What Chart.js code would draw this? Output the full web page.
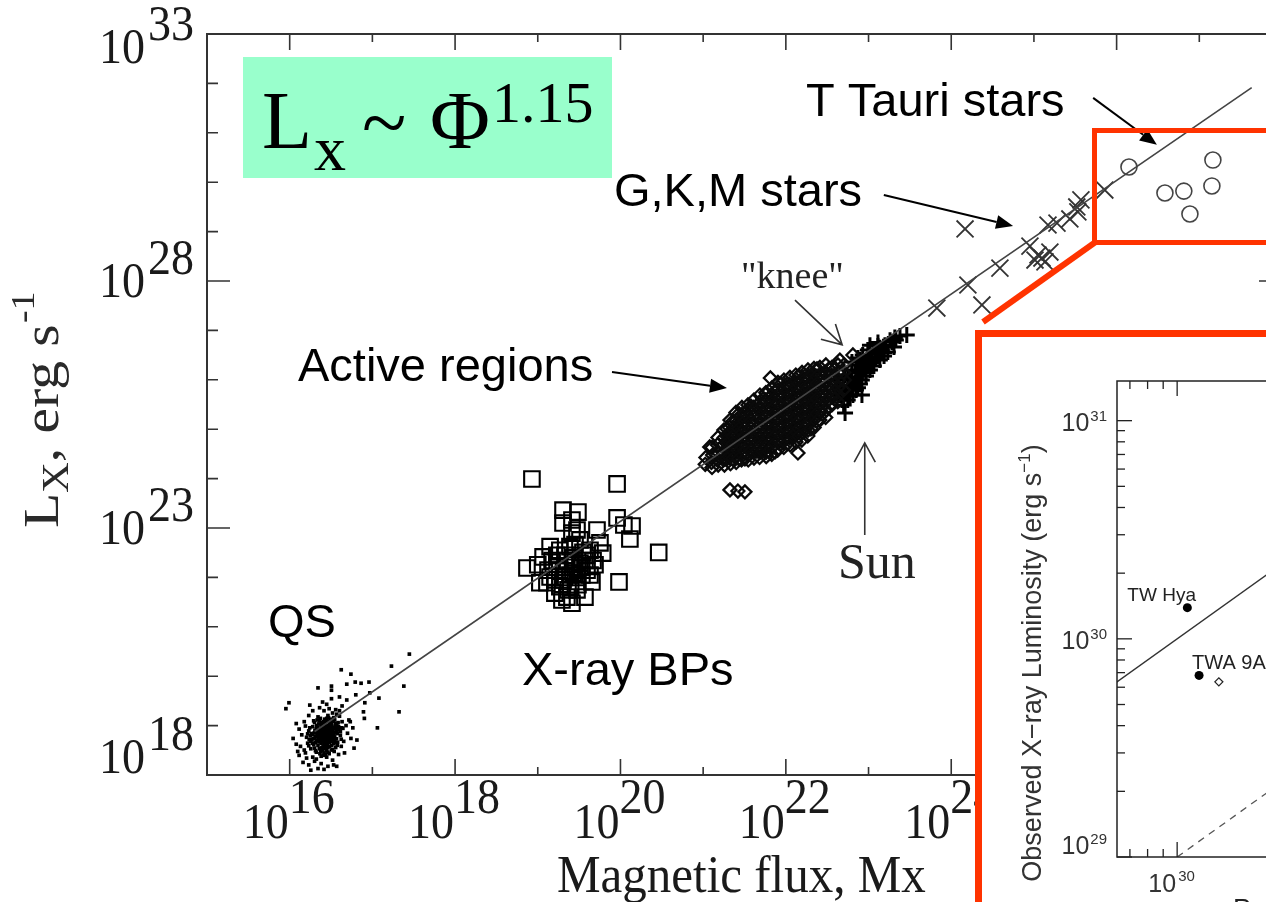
<!DOCTYPE html>
<html><head><meta charset="utf-8">
<script src="https://cdn.jsdelivr.net/npm/chart.js@4"></script>
<style>
html,body{margin:0;padding:0;background:#fff;overflow:hidden;width:1266px;height:902px;}
#wrap{position:relative;width:1266px;height:902px;overflow:hidden;background:#fff;}
#main{position:absolute;left:0;top:0;}
#inset{position:absolute;left:975px;top:330px;width:700px;height:620px;border:7px solid #ff3300;background:#fff;box-sizing:border-box;}
#insetCanvas{position:absolute;left:0;top:0;}
</style></head>
<body><div id="wrap">
<canvas id="main" width="1300" height="902"></canvas>
<div id="inset"><canvas id="insetCanvas" width="640" height="600"></canvas></div>
</div>
<script>
// ---------------- DATA (main panel: magnetic flux [Mx] vs X-ray luminosity [erg/s]) ----------------
const xTickLabelValues = [1e16, 1e18, 1e20, 1e22, 1e24, 1e26];
const yTickLabelValues = [1e18, 1e23, 1e28, 1e33];

const fitFlux = [2.0e16, 4.3e27];
const fitLx   = [7.6e18, 8.2e31];

const qsPoints = [
[2.7e16,6.5e18],[2.5e16,5.8e18],[2.9e16,7.2e18],[2.3e16,6.1e18],[3.1e16,5.5e18],[2.6e16,8.0e18],[2.8e16,4.9e18],[2.2e16,7.5e18],[3.3e16,6.8e18],[2.4e16,4.4e18],
[3.0e16,8.8e18],[2.0e16,5.6e18],[3.5e16,5.9e18],[2.6e16,3.9e18],[2.1e16,8.6e18],[3.2e16,9.8e18],[2.9e16,3.6e18],[1.9e16,6.6e18],[3.7e16,7.7e18],[2.4e16,1.0e19],
[2.7e16,1.15e19],[3.4e16,4.3e18],[2.2e16,4.0e18],[1.8e16,4.8e18],[3.9e16,9.5e18],[2.5e16,3.2e18],[3.1e16,1.25e19],[2.0e16,3.5e18],[3.6e16,1.1e19],[2.8e16,1.4e19],
[2.3e16,1.25e19],[3.3e16,3.3e18],[1.9e16,9.5e18],[4.1e16,6.3e18],[2.6e16,2.8e18],[2.1e16,2.9e18],[3.0e16,2.7e18],[1.7e16,3.9e18],[3.8e16,4.6e18],[2.9e16,1.6e19],
[3.4e16,1.45e19],[2.2e16,1.5e19],[4.3e16,1.2e19],[1.7e16,7.8e18],[2.4e16,2.4e18],[2.8e16,2.3e18],[3.6e16,3.6e18],[1.6e16,5.8e18],[4.0e16,1.55e19],[2.0e16,1.15e19],
[2.55e16,7.1e18],[2.75e16,5.2e18],[2.35e16,6.9e18],[2.95e16,6.0e18],[2.65e16,9.0e18],[3.15e16,7.9e18],[2.45e16,5.1e18],[2.85e16,8.3e18],[3.25e16,5.0e18],[2.15e16,6.3e18],
[3.45e16,8.6e18],[2.05e16,4.5e18],[3.55e16,1.0e19],[2.7e16,4.2e18],[2.5e16,9.3e18],[3.0e16,4.6e18],[2.3e16,8.2e18],[3.2e16,6.4e18],[2.6e16,1.05e19],[2.8e16,3.1e18],
[1.85e16,5.2e18],[3.75e16,6.9e18],[2.45e16,3.6e18],[3.05e16,1.05e19],[2.25e16,1.08e19],[3.35e16,1.2e19],[1.95e16,4.1e18],[3.95e16,8.2e18],[2.7e16,2.6e18],[2.2e16,5.0e18],
[2.62e16,6.0e18],[2.88e16,6.7e18],[2.42e16,7.6e18],[3.12e16,7.0e18],[2.52e16,4.7e18],[2.78e16,9.6e18],[2.32e16,5.4e18],[3.38e16,7.4e18],[2.18e16,9.2e18],[2.98e16,5.1e18],
[2.68e16,3.4e18],[3.22e16,4.0e18],[2.12e16,4.9e18],[2.58e16,1.2e19],[3.48e16,5.3e18],[1.98e16,7.1e18],[2.92e16,1.2e19],[2.38e16,3.0e18],[3.62e16,8.9e18],[1.78e16,6.2e18],
[2.33e16,5.7e18],[2.57e16,6.4e18],[2.83e16,5.6e18],[3.07e16,6.2e18],[2.47e16,8.4e18],[2.73e16,7.8e18],[2.97e16,8.1e18],[3.27e16,8.4e18],[2.27e16,4.7e18],[2.63e16,4.5e18],
[2.87e16,4.3e18],[3.17e16,4.8e18],[2.07e16,6.0e18],[2.17e16,7.0e18],[3.42e16,6.3e18],[3.57e16,7.2e18],[2.53e16,3.7e18],[2.77e16,3.9e18],[3.03e16,3.8e18],[2.28e16,3.4e18],
[2.43e16,9.8e18],[2.67e16,1.1e19],[2.93e16,1.0e19],[3.18e16,1.12e19],[2.13e16,1.0e19],[3.33e16,9.3e18],[1.93e16,5.4e18],[1.83e16,6.9e18],[3.68e16,5.4e18],[3.82e16,8.6e18],
[2.48e16,6.6e18],[2.72e16,6.9e18],[2.92e16,6.4e18],[2.38e16,5.0e18],[2.61e16,5.3e18],[3.08e16,5.8e18],[2.22e16,8.0e18],[2.82e16,7.5e18],[3.28e16,5.7e18],[2.52e16,8.8e18],
[2.02e16,8.0e18],[1.88e16,4.4e18],[3.52e16,4.6e18],[3.72e16,9.9e18],[2.32e16,2.7e18],[2.9e16,2.9e18],[3.2e16,3.2e18],[2.55e16,2.5e18],[1.72e16,5.2e18],[4.1e16,7.5e18],
[2.42e16,1.15e19],[2.78e16,1.25e19],[3.1e16,1.35e19],[2.15e16,1.3e19],[3.5e16,1.3e19],[2.65e16,1.35e19],[1.95e16,1.25e19],[2.35e16,1.4e19],[3.85e16,1.15e19],[2.95e16,1.45e19],
[1.8e16,3.4e18],[1.65e16,4.4e18],[2.05e16,3.1e18],[3.45e16,3.0e18],[3.75e16,4.0e18],[4.2e16,5.3e18],[1.65e16,6.8e18],[1.75e16,9.0e18],[4.25e16,9.0e18],[2.58e16,7.7e18],
[2.68e16,5.5e18],[2.78e16,6.1e18],[2.4e16,6.2e18],[3.0e16,7.6e18],[2.2e16,5.6e18],[3.3e16,6.0e18],[2.5e16,5.3e18],[2.9e16,9.0e18],[2.6e16,7.0e18],[3.1e16,8.5e18],
[1.3e16,2.5e18],[1.5e16,3.2e18],[1.2e16,4.2e18],[1.45e16,1.8e18],[1.6e16,2.2e18],[1.35e16,3.8e18],[1.7e16,1.6e18],[1.55e16,2.8e18],[1.25e16,3.0e18],[1.1e16,5.5e18],
[2.0e16,1.9e18],[2.4e16,1.7e18],[2.9e16,1.5e18],[3.3e16,2.0e18],[2.6e16,1.3e18],[3.4e16,1.6e18],[1.9e16,2.3e18],[2.2e16,1.35e18],[3.9e16,2.6e18],[2.1e16,2.1e18],
[4.5e16,4.8e18],[5.0e16,7.0e18],[4.8e16,1.0e19],[4.6e16,2.8e18],[5.5e16,5.5e18],[4.4e16,8.8e18],[5.2e16,1.3e19],[4.2e16,3.8e18],[6.0e16,3.5e18],[5.8e16,9.0e18],
[1.5e16,1.2e19],[1.3e16,8.5e18],[1.7e16,1.6e19],[1.4e16,6.5e18],[1.9e16,2.0e19],[1.55e16,9.8e18],[1.2e16,1.1e19],[9.0e15,2.2e19],[2.3e16,2.3e19],[1.75e16,2.6e19],
[2.6e16,2.0e19],[3.0e16,2.2e19],[3.3e16,1.8e19],[2.8e16,2.7e19],[3.6e16,2.1e19],[4.0e16,2.0e19],[2.5e16,3.0e19],[3.2e16,3.5e19],[4.3e16,2.5e19],[3.7e16,1.7e19],
[2.8e17,2.8e20],[1.7e17,1.6e20],[4.2e16,1.35e20],[5.5e16,1.1e20],[3.2e16,6.3e19],[2.2e16,5.8e19],[9.8e15,2.9e19],[2.4e17,6.3e19],[2.1e17,1.9e19],[1.15e17,9.0e18],
[8.0e16,1.4e19],[6.5e16,5.1e18],[9.1e16,7.6e19],[7.3e16,7.2e19],[4.9e16,6.9e19],[9.3e16,4.6e19],[6.3e16,4.2e19],[1.2e17,3.6e19],[8.1e16,2.9e19],[4.9e16,3.3e19],
[4.0e16,3.8e19],[3.2e16,5.2e19],[6.2e16,7.6e19],[7.8e16,1.9e19],[5.4e16,1.2e19],[1.8e16,1.25e18],[3.7e16,1.5e18]
];

const bpPoints = [
[8.5e18,9.8e23],[9.1e19,7.8e23],[2.02e19,2.3e23],[3.06e19,2.1e23],[2.59e19,1.45e23],[9.1e19,1.6e23],[1.38e20,1.1e23],[1.1e20,1.15e23],[1.3e20,6.0e22],[2.9e20,3.2e22],
[9.6e19,8.1e21],[5.2e19,9.1e22],[2.98e19,9.1e22],[1.0e19,1.8e22],[1.41e19,4.2e22],[1.85e19,3.55e22],[3.24e19,5.75e22],[4.28e19,3.55e22],[6.1e19,3.1e22],[2.25e19,2.2e22],
[3.24e19,1.95e22],[1.41e19,1.02e22],[1.85e19,6.5e21],[2.25e19,4.0e21],[3.72e19,4.0e21],[2.98e19,5.6e21],[1.61e19,4.8e21],[1.16e19,2.6e22],[3.94e19,1.4e22],[2.67e19,1.23e22],
[4.66e19,2.2e22],[5.65e19,5.0e22],[3.52e19,3.2e22],[2.45e19,4.2e22],[1.71e19,1.6e22],[2.02e19,8.9e21],[4.52e19,8.1e21],[1.29e19,7.8e21],[2.59e19,7.9e22],[2.02e19,1.26e23],
[2.13e19,2.8e22],[2.82e19,1.8e22],[2.45e19,1.12e22],[3.72e19,2.2e22],[1.85e19,1.4e22],[3.06e19,7.1e21],[4.28e19,1.12e22],[1.49e19,2.2e22],[2.32e19,5.6e21],[3.42e19,1.12e22],
[2.82e19,4.6e22],[1.61e19,8.9e21],[4.92e19,1.8e22],[1.96e19,3.5e21],[2.59e19,3.0e21],[1.33e19,1.4e22],[7.4e18,1.55e22],[1.06e19,7.8e21],
[2.2e19,1.6e22],[2.7e19,2.5e22],[3.4e19,1.6e22],[1.7e19,2.8e22],[3.0e19,1.0e22],[2.1e19,1.0e22],[2.5e19,6.5e21],[3.9e19,2.8e22]
];

const arPoints = [
[1.08e21,2.68e24],[1.06e21,1.95e24],
[1.28e21,4.27e24],[1.3e21,3.0e24],[1.26e21,2.12e24],
[1.51e21,6.8e24],[1.49e21,4.79e24],[1.53e21,3.38e24],[1.5e21,2.38e24],[1.52e21,1.88e24],
[1.78e21,9.6e24],[1.8e21,6.8e24],[1.76e21,4.79e24],[1.79e21,3.38e24],[1.77e21,2.38e24],[1.81e21,1.88e24],
[2.11e21,1.53e25],[2.08e21,1.08e25],[2.13e21,7.6e24],[2.1e21,5.4e24],[2.12e21,3.79e24],[2.09e21,2.68e24],[2.14e21,2.0e24],
[2.49e21,2.18e25],[2.52e21,1.53e25],[2.47e21,1.08e25],[2.5e21,7.6e24],[2.48e21,5.4e24],[2.53e21,3.79e24],[2.46e21,2.68e24],[2.51e21,2.12e24],
[2.94e21,2.75e25],[2.9e21,1.94e25],[2.97e21,1.37e25],[2.92e21,9.6e24],[2.96e21,6.8e24],[2.93e21,4.79e24],[2.98e21,3.38e24],[2.91e21,2.38e24],
[3.48e21,3.09e25],[3.45e21,2.45e25],[3.5e21,1.73e25],[3.44e21,1.22e25],[3.52e21,8.6e24],[3.47e21,6.04e24],[3.49e21,4.27e24],[3.46e21,3.0e24],[3.51e21,2.38e24],
[4.11e21,3.9e25],[4.06e21,2.75e25],[4.14e21,1.94e25],[4.08e21,1.37e25],[4.13e21,9.6e24],[4.09e21,6.8e24],[4.15e21,4.79e24],[4.1e21,3.38e24],[4.12e21,2.6e24],
[4.86e21,4.92e25],[4.82e21,3.47e25],[4.9e21,2.45e25],[4.84e21,1.73e25],[4.88e21,1.22e25],[4.83e21,9.6e24],[4.89e21,6.8e24],[4.85e21,4.79e24],[4.87e21,3.38e24],[4.81e21,2.68e24],
[5.74e21,5.5e25],[5.7e21,3.9e25],[5.78e21,2.75e25],[5.72e21,1.94e25],[5.76e21,1.37e25],[5.71e21,9.6e24],[5.77e21,6.8e24],[5.73e21,4.79e24],[5.75e21,3.38e24],[5.79e21,2.8e24],
[6.79e21,6.9e25],[6.74e21,4.92e25],[6.83e21,3.47e25],[6.77e21,2.45e25],[6.81e21,1.73e25],[6.76e21,1.22e25],[6.82e21,8.6e24],[6.78e21,6.04e24],[6.8e21,4.27e24],[6.75e21,3.1e24],
[8.02e21,8.9e25],[7.96e21,6.22e25],[8.07e21,4.4e25],[7.99e21,3.09e25],[8.05e21,2.18e25],[7.98e21,1.53e25],[8.04e21,1.08e25],[8.0e21,7.6e24],[8.06e21,5.4e24],[7.97e21,3.79e24],
[9.48e21,9.9e25],[9.4e21,6.9e25],[9.55e21,4.92e25],[9.45e21,3.47e25],[9.52e21,2.45e25],[9.43e21,1.73e25],[9.5e21,1.22e25],[9.46e21,8.6e24],[9.53e21,6.04e24],[9.44e21,4.27e24],
[1.12e22,1.12e26],[1.11e22,7.85e25],[1.13e22,5.5e25],[1.115e22,3.9e25],[1.125e22,2.75e25],[1.11e22,1.94e25],[1.13e22,1.37e25],[1.12e22,9.6e24],[1.115e22,6.8e24],[1.125e22,4.79e24],
[1.32e22,1.25e26],[1.31e22,8.9e25],[1.33e22,6.22e25],[1.315e22,4.4e25],[1.325e22,3.09e25],[1.31e22,2.18e25],[1.33e22,1.53e25],[1.32e22,1.08e25],[1.315e22,7.6e24],[1.325e22,5.5e24],
[1.57e22,1.41e26],[1.55e22,9.9e25],[1.59e22,6.9e25],[1.56e22,4.92e25],[1.58e22,3.47e25],[1.555e22,2.45e25],[1.585e22,1.73e25],[1.565e22,1.22e25],[1.575e22,8.6e24],[1.56e22,6.04e24],
[1.85e22,1.58e26],[1.83e22,1.12e26],[1.87e22,7.85e25],[1.84e22,5.5e25],[1.86e22,3.9e25],[1.835e22,2.75e25],[1.865e22,1.94e25],[1.845e22,1.37e25],[1.855e22,9.6e24],[1.84e22,7.3e24],
[2.19e22,1.7e26],[2.17e22,1.25e26],[2.21e22,8.9e25],[2.18e22,6.22e25],[2.2e22,4.4e25],[2.175e22,3.09e25],[2.205e22,2.18e25],[2.185e22,1.53e25],[2.195e22,1.08e25],
[2.58e22,1.78e26],[2.55e22,1.25e26],[2.61e22,8.9e25],[2.57e22,6.22e25],[2.6e22,4.4e25],[2.56e22,3.09e25],[2.59e22,2.18e25],[2.57e22,1.53e25],
[3.05e22,2.0e26],[3.02e22,1.41e26],[3.08e22,9.9e25],[3.03e22,6.9e25],[3.07e22,4.92e25],[3.04e22,3.47e25],[3.06e22,2.45e25],[3.03e22,1.73e25],
[3.61e22,1.78e26],[3.57e22,1.25e26],[3.65e22,8.9e25],[3.59e22,6.22e25],[3.63e22,4.4e25],[3.6e22,3.09e25],
[4.27e22,2.0e26],[4.22e22,1.41e26],[4.3e22,9.9e25],[4.25e22,6.9e25],[4.29e22,4.92e25],[4.24e22,3.6e25],
[5.05e22,2.0e26],[5.0e22,1.41e26],[5.1e22,9.9e25],[4.98e22,6.22e25],
[6.47e22,3.18e26],[4.5e22,2.5e26],[6.5e21,1.09e26],[1.4e22,3.3e24],[2.11e21,5.9e23],[2.63e21,5.6e23],[3.2e21,5.4e23],
[1.28e21,1.68e24],[1.2e21,4.37e24],[7.4e21,3.47e24],[2.14e22,1.69e25],
[1.94e21,1.02e25],[1.94e21,7.2e24],[1.94e21,5.08e24],[1.94e21,3.58e24],[1.94e21,2.52e24],
[2.29e21,1.45e25],[2.29e21,1.02e25],[2.29e21,7.2e24],[2.29e21,5.08e24],[2.29e21,3.58e24],[2.29e21,2.52e24],
[2.71e21,2.06e25],[2.71e21,1.45e25],[2.71e21,1.02e25],[2.71e21,7.2e24],[2.71e21,5.08e24],[2.71e21,3.58e24],[2.71e21,2.52e24],
[3.2e21,2.06e25],[3.2e21,1.45e25],[3.2e21,1.02e25],[3.2e21,7.2e24],[3.2e21,5.08e24],[3.2e21,3.58e24],[3.2e21,2.52e24],
[3.78e21,2.92e25],[3.78e21,2.06e25],[3.78e21,1.45e25],[3.78e21,1.02e25],[3.78e21,7.2e24],[3.78e21,5.08e24],[3.78e21,3.58e24],
[4.47e21,2.92e25],[4.47e21,2.06e25],[4.47e21,1.45e25],[4.47e21,1.02e25],[4.47e21,7.2e24],[4.47e21,5.08e24],[4.47e21,3.58e24],
[5.28e21,4.13e25],[5.28e21,2.92e25],[5.28e21,2.06e25],[5.28e21,1.45e25],[5.28e21,1.02e25],[5.28e21,7.2e24],[5.28e21,5.08e24],[5.28e21,3.58e24],
[6.25e21,5.86e25],[6.25e21,4.13e25],[6.25e21,2.92e25],[6.25e21,2.06e25],[6.25e21,1.45e25],[6.25e21,1.02e25],[6.25e21,7.2e24],[6.25e21,5.08e24],[6.25e21,3.58e24],
[7.38e21,5.86e25],[7.38e21,4.13e25],[7.38e21,2.92e25],[7.38e21,2.06e25],[7.38e21,1.45e25],[7.38e21,1.02e25],[7.38e21,7.2e24],[7.38e21,5.08e24],
[8.73e21,8.3e25],[8.73e21,5.86e25],[8.73e21,4.13e25],[8.73e21,2.92e25],[8.73e21,2.06e25],[8.73e21,1.45e25],[8.73e21,1.02e25],[8.73e21,7.2e24],[8.73e21,5.08e24],
[1.03e22,8.3e25],[1.03e22,5.86e25],[1.03e22,4.13e25],[1.03e22,2.92e25],[1.03e22,2.06e25],[1.03e22,1.45e25],[1.03e22,1.02e25],[1.03e22,7.2e24],[1.03e22,5.08e24],
[1.22e22,8.3e25],[1.22e22,5.86e25],[1.22e22,4.13e25],[1.22e22,2.92e25],[1.22e22,2.06e25],[1.22e22,1.45e25],[1.22e22,1.02e25],[1.22e22,7.2e24],
[1.44e22,1.18e26],[1.44e22,8.3e25],[1.44e22,5.86e25],[1.44e22,4.13e25],[1.44e22,2.92e25],[1.44e22,2.06e25],[1.44e22,1.45e25],[1.44e22,1.02e25],[1.44e22,7.2e24],
[1.7e22,1.18e26],[1.7e22,8.3e25],[1.7e22,5.86e25],[1.7e22,4.13e25],[1.7e22,2.92e25],[1.7e22,2.06e25],[1.7e22,1.45e25],[1.7e22,1.02e25],
[2.01e22,1.18e26],[2.01e22,8.3e25],[2.01e22,5.86e25],[2.01e22,4.13e25],[2.01e22,2.92e25],[2.01e22,2.06e25],[2.01e22,1.45e25],[2.01e22,1.02e25],
[2.38e22,1.67e26],[2.38e22,1.18e26],[2.38e22,8.3e25],[2.38e22,5.86e25],[2.38e22,4.13e25],[2.38e22,2.92e25],[2.38e22,2.06e25],[2.38e22,1.45e25],
[2.81e22,1.18e26],[2.81e22,8.3e25],[2.81e22,5.86e25],[2.81e22,4.13e25],[2.81e22,2.92e25],[2.81e22,2.06e25],
[3.32e22,1.67e26],[3.32e22,1.18e26],[3.32e22,8.3e25],[3.32e22,5.86e25],[3.32e22,4.13e25],[3.32e22,2.92e25],
[3.93e22,1.67e26],[3.93e22,1.18e26],[3.93e22,8.3e25],[3.93e22,5.86e25],[3.93e22,4.13e25]
];

const sunPoints = [
[5.2e22,2.14e25],[5.6e22,3.9e25],[4.5e22,4.92e25],[5.96e22,6.22e25],[4.9e22,7.85e25],[6.86e22,8.9e25],[5.6e22,1.12e26],[7.45e22,1.41e26],
[6.3e22,1.58e26],[8.3e22,1.78e26],[9.3e22,2.24e26],[7.9e22,2.52e26],[1.04e23,2.83e26],[1.19e23,3.55e26],[9.8e22,4.0e26],[1.37e23,4.47e26],
[1.58e23,5.0e26],[1.3e23,5.7e26],[1.82e23,6.3e26],[2.08e23,7.2e26],[2.4e23,7.7e26],[2.9e23,8.1e26],[1.1e23,2.24e26],[7.1e22,2.0e26],
[8.5e22,3.18e26],[1.23e23,2.83e26],[1.54e23,3.55e26],[1.04e23,5.0e26],[7.45e22,6.9e25],[6.47e22,4.92e25],[8.3e22,9.9e25],[5.0e22,3.09e25],
[9.3e22,1.41e26],[5.96e22,1.0e26],[4.27e22,6.9e25],
[4.77e22,3.9e25],[5.33e22,5.66e25],[6.3e22,7.48e25],[7.04e22,1.09e26],[7.87e22,1.44e26],[8.79e22,1.73e26],[9.84e22,2.09e26],[1.1e23,2.76e26],
[1.23e23,3.33e26],[1.45e23,4.01e26],[1.62e23,4.83e26],[1.92e23,5.82e26],[2.14e23,6.4e26],[5.96e22,4.7e25],[7.04e22,6.22e25],[7.87e22,8.2e25],
[9.31e22,1.19e26],[1.04e23,1.58e26],[1.16e23,1.9e26],[1.37e23,2.52e26],[1.54e23,3.03e26],[1.71e23,3.66e26],[2.03e23,4.61e26],[4.27e22,9.9e25],
[5.19e22,1.25e26],[6.3e22,2.29e26],[7.45e22,2.76e26],[1.3e23,4.83e26],[8.32e22,4.92e25]
];

const starPoints = [
[1.47e24,1.13e29],[6.7e23,2.84e27],[1.59e24,8.3e27],[2.35e24,3.27e27],[3.88e24,1.83e28],[8.95e24,5.1e28],[1.12e25,3.36e28],[1.25e25,2.92e28],
[1.36e25,2.43e28],[1.03e25,2.66e28],[1.56e25,3.86e28],[1.48e25,1.36e29],[1.9e25,1.49e29],[2.72e25,1.8e29],[3.3e25,3.15e29],[3.7e25,4.37e29],
[3.4e25,2.5e29],[7.2e25,6.95e29]
];

const tTauriPoints = [[1.41e26,2.03e30],[3.84e26,6.04e29],[6.5e26,6.6e29],[1.46e27,2.81e30],[1.42e27,8.4e29],[7.7e26,2.27e29]];

// ---------------- DATA (inset: predicted vs observed X-ray luminosity) ----------------
const insetXTickLabelValues = [1e30];
const insetYTickLabelValues = [1e29, 1e30, 1e31];
const equalityLine = [[5e29,5e29],[3e31,3e31]];
const tenthLine = [[1e30,1e29],[3e31,3e30]];
const insetFilledStars = [[1.08e30,1.39e30],[1.18e30,6.8e29]];
const insetFilledNames = ['TW Hya','TWA 9A'];
const insetOpenStars = [[1.37e30,6.35e29]];

// ---------------- helpers ----------------
const serif = "'Liberation Serif','Times New Roman',serif";
const sans = "'Liberation Sans',Arial,sans-serif";
const toXY = a => a.map(p => ({x:p[0], y:p[1]}));
const pairs = (xs, ys) => xs.map((v,i)=>[v, ys[i]]);

function arrow(ctx, x1, y1, x2, y2, filled){
  const ang = Math.atan2(y2-y1, x2-x1);
  if (filled){
    const L = 17, W = 7;
    const bx = x2 - L*Math.cos(ang), by = y2 - L*Math.sin(ang);
    ctx.beginPath(); ctx.moveTo(x1,y1); ctx.lineTo(bx,by); ctx.stroke();
    ctx.beginPath(); ctx.moveTo(x2,y2);
    ctx.lineTo(bx + W*Math.sin(ang), by - W*Math.cos(ang));
    ctx.lineTo(bx - W*Math.sin(ang), by + W*Math.cos(ang));
    ctx.closePath(); ctx.fill();
  } else {
    const L = 22, A = 0.5;
    ctx.beginPath(); ctx.moveTo(x1,y1); ctx.lineTo(x2,y2);
    ctx.moveTo(x2 - L*Math.cos(ang-A), y2 - L*Math.sin(ang-A)); ctx.lineTo(x2,y2);
    ctx.lineTo(x2 - L*Math.cos(ang+A), y2 - L*Math.sin(ang+A));
    ctx.stroke();
  }
}
function stretchedText(ctx, txt, x, y, sy){
  ctx.save(); ctx.translate(x,y); ctx.scale(1,sy); ctx.fillText(txt,0,0); ctx.restore();
}

// annotation arrows anchored in data coordinates
const arrowSpecs = [
  {from:[7.9e19,1.44e26], to:[1.94e21,6.8e25], filled:true},
  {from:[1.53e23,5.5e29], to:[5.6e24,1.3e29], filled:true},
  {from:[5.2e25,5.1e31], to:[3.07e26,5.7e30], filled:true},
  {from:[1.29e22,4.1e27], to:[4.8e22,5.1e26], filled:false},
  {from:[9.0e22,7.2e22], to:[9.0e22,5.3e24], filled:false}
];

const mainDecor = {
  id:'mainDecor',
  afterDraw(chart){
    const ctx = chart.ctx, xs = chart.scales.x, ys = chart.scales.y, a = chart.chartArea;
    ctx.save();
    ctx.strokeStyle = '#333'; ctx.lineWidth = 2;
    ctx.strokeRect(a.left, a.top, a.right-a.left, a.bottom-a.top);
    ctx.lineWidth = 1.6;
    const xMin = Math.round(Math.log10(xs.min)), xMax = Math.round(Math.log10(xs.max));
    for (let p = xMin+1; p < xMax; p++){
      const x = xs.getPixelForValue(Math.pow(10,p));
      const L = (p % 2 === 0) ? 16 : 8;
      ctx.beginPath();
      ctx.moveTo(x, a.bottom); ctx.lineTo(x, a.bottom-L);
      ctx.moveTo(x, a.top); ctx.lineTo(x, a.top+L);
      ctx.stroke();
    }
    const yMin = Math.round(Math.log10(ys.min)), yMax = Math.round(Math.log10(ys.max));
    for (let p = yMin+1; p < yMax; p++){
      const y = ys.getPixelForValue(Math.pow(10,p));
      const L = ((p - yMin) % 5 === 0) ? 23 : 11;
      ctx.beginPath();
      ctx.moveTo(a.left, y); ctx.lineTo(a.left+L, y);
      ctx.moveTo(a.right, y); ctx.lineTo(a.right-L, y);
      ctx.stroke();
    }
    ctx.fillStyle = '#1a1a1a';
    ctx.font = `46px ${serif}`;
    ctx.textBaseline = 'alphabetic';
    xTickLabelValues.forEach(v => {
      const x = xs.getPixelForValue(v);
      const e = String(Math.round(Math.log10(v)));
      ctx.textAlign = 'right'; stretchedText(ctx, '10', x-1, 838, 1.12);
      ctx.textAlign = 'left'; stretchedText(ctx, e, x-1, 813, 1.12);
    });
    yTickLabelValues.forEach(v => {
      const y = ys.getPixelForValue(v);
      const e = String(Math.round(Math.log10(v)));
      const base = Math.max(63, Math.min(773, y+16));
      ctx.textAlign = 'right';
      stretchedText(ctx, e, 194, base-23, 1.12);
      const w = ctx.measureText(e).width;
      stretchedText(ctx, '10', 194-w-3, base, 1.12);
    });
    ctx.textAlign = 'left';
    ctx.font = `49px ${serif}`;
    stretchedText(ctx, 'Magnetic flux, Mx', 557, 892, 1.07);
    ctx.save();
    ctx.fillStyle = '#2a2a2a';
    ctx.translate(58, 528); ctx.rotate(-Math.PI/2); ctx.scale(1.15,1);
    let tx = 0;
    ctx.font = `50px ${serif}`; ctx.fillText('L', tx, 0); tx += ctx.measureText('L').width;
    ctx.font = `37px ${serif}`; ctx.fillText('X', tx, 10); tx += ctx.measureText('X').width;
    ctx.font = `50px ${serif}`; ctx.fillText(', erg s', tx, 0); tx += ctx.measureText(', erg s').width;
    ctx.font = `33px ${serif}`; ctx.fillText('-1', tx+1, -24);
    ctx.restore();

    ctx.fillStyle = '#99ffcc';
    ctx.fillRect(243, 57, 369, 121);
    ctx.fillStyle = '#000';
    ctx.font = `82px ${serif}`;
    ctx.fillText('L', 262, 148);
    ctx.font = `64px ${serif}`;
    ctx.fillText('x', 314, 170);
    ctx.font = `82px ${serif}`;
    ctx.fillText('~', 362, 150);
    ctx.fillText('\u03A6', 430, 148);
    ctx.font = `58px ${serif}`;
    ctx.fillText('1.15', 492, 122);

    ctx.fillStyle = '#000';
    ctx.font = `47px ${sans}`;
    ctx.fillText('T Tauri stars', 806, 116);
    ctx.fillText('G,K,M stars', 614, 206);
    ctx.fillText('Active regions', 298, 381);
    ctx.fillText('QS', 268, 637);
    ctx.fillText('X-ray BPs', 522, 685);
    ctx.font = `50px ${serif}`;
    ctx.fillStyle = '#222';
    ctx.fillText('Sun', 838, 578);
    ctx.font = `38px ${serif}`;
    ctx.fillText('"knee"', 741, 288);

    arrowSpecs.forEach(s => {
      const x1 = xs.getPixelForValue(s.from[0]), y1 = ys.getPixelForValue(s.from[1]);
      const x2 = xs.getPixelForValue(s.to[0]), y2 = ys.getPixelForValue(s.to[1]);
      ctx.strokeStyle = s.filled ? '#000' : '#333';
      ctx.fillStyle = '#000';
      ctx.lineWidth = s.filled ? 2 : 1.6;
      arrow(ctx, x1, y1, x2, y2, s.filled);
    });

    ctx.strokeStyle = '#ff3300';
    ctx.lineWidth = 5;
    ctx.strokeRect(1094.5, 130.5, 300, 112);
    ctx.lineWidth = 6;
    ctx.beginPath(); ctx.moveTo(983, 322); ctx.lineTo(1097, 241); ctx.stroke();
    ctx.restore();
  }
};

new Chart(document.getElementById('main'), {
  type: 'scatter',
  data: { datasets: [
    {label:'Fit', type:'line', data: toXY(pairs(fitFlux, fitLx)), borderColor:'#444', borderWidth:1.6, pointRadius:0, fill:false},
    {label:'QS', data: toXY(qsPoints), pointStyle:'rect', pointRadius:2.6, backgroundColor:'#000', borderColor:'#000', borderWidth:0},
    {label:'X-ray BPs', data: toXY(bpPoints), pointStyle:'rect', pointRadius:11, backgroundColor:'rgba(0,0,0,0)', borderColor:'#000', borderWidth:2.1},
    {label:'Active regions', data: toXY(arPoints), pointStyle:'rectRot', pointRadius:6.5, backgroundColor:'rgba(0,0,0,0)', borderColor:'#0a0a0a', borderWidth:2.3},
    {label:'Sun', data: toXY(sunPoints), pointStyle:'cross', pointRadius:8, borderColor:'#000', borderWidth:3},
    {label:'G,K,M stars', data: toXY(starPoints), pointStyle:'crossRot', pointRadius:12, borderColor:'#333', borderWidth:1.8},
    {label:'T Tauri stars', data: toXY(tTauriPoints), pointStyle:'circle', pointRadius:8, backgroundColor:'rgba(0,0,0,0)', borderColor:'#444', borderWidth:1.6}
  ]},
  options: {
    responsive:false, animation:false, devicePixelRatio:1, events:[],
    layout:{padding:{left:207, top:34, right:18, bottom:127}},
    plugins:{legend:{display:false}, tooltip:{enabled:false}, title:{display:false}},
    scales:{
      x:{type:'logarithmic', min:1e15, max:1e28, display:false},
      y:{type:'logarithmic', min:1e18, max:1e33, display:false}
    }
  },
  plugins:[mainDecor]
});

const insetDecor = {
  id:'insetDecor',
  afterDraw(chart){
    const ctx = chart.ctx, xs = chart.scales.x, ys = chart.scales.y, a = chart.chartArea;
    ctx.save();
    ctx.strokeStyle = '#222'; ctx.lineWidth = 1.5;
    ctx.strokeRect(a.left, a.top, a.right-a.left, a.bottom-a.top);
    ctx.lineWidth = 1.3;
    for (let p = 29; p <= 31; p++){
      for (let m = 1; m <= 9; m++){
        const v = m*Math.pow(10,p);
        if (v > ys.min && v < ys.max || v === ys.min){
          const y = ys.getPixelForValue(v), L = m===1 ? 15 : 8;
          ctx.beginPath(); ctx.moveTo(a.left, y); ctx.lineTo(a.left+L, y); ctx.stroke();
        }
        if (v > xs.min && v < xs.max){
          const x = xs.getPixelForValue(v), L = m===1 ? 15 : 8;
          ctx.beginPath();
          ctx.moveTo(x, a.bottom); ctx.lineTo(x, a.bottom-L);
          ctx.moveTo(x, a.top); ctx.lineTo(x, a.top+L);
          ctx.stroke();
        }
      }
    }
    ctx.fillStyle = '#333';
    ctx.textBaseline = 'alphabetic';
    insetYTickLabelValues.forEach(v => {
      const y = ys.getPixelForValue(v);
      const e = String(Math.round(Math.log10(v)));
      const base = Math.min(a.bottom-3, y+10);
      ctx.textAlign = 'right';
      ctx.font = `15px ${sans}`; ctx.fillText(e, a.left-10, base-10);
      const w = ctx.measureText(e).width;
      ctx.font = `25px ${sans}`; ctx.fillText('10', a.left-10-w-1, base);
    });
    insetXTickLabelValues.forEach(v => {
      const x = xs.getPixelForValue(v);
      const e = String(Math.round(Math.log10(v)));
      ctx.textAlign = 'right'; ctx.font = `25px ${sans}`; ctx.fillText('10', x-1, a.bottom+35);
      ctx.textAlign = 'left'; ctx.font = `15px ${sans}`; ctx.fillText(e, x+1, a.bottom+24);
    });
    ctx.fillStyle = '#222';
    ctx.textAlign = 'left';
    ctx.font = `19px ${sans}`;
    const p0x = xs.getPixelForValue(insetFilledStars[0][0]), p0y = ys.getPixelForValue(insetFilledStars[0][1]);
    ctx.fillText(insetFilledNames[0], p0x-60, p0y-7);
    ctx.font = `20px ${sans}`;
    const p1x = xs.getPixelForValue(insetFilledStars[1][0]), p1y = ys.getPixelForValue(insetFilledStars[1][1]);
    ctx.fillText(insetFilledNames[1], p1x-7, p1y-6);
    ctx.save();
    ctx.fillStyle = '#333';
    ctx.translate(a.left-76, (a.top+a.bottom)/2 + 44);
    ctx.rotate(-Math.PI/2);
    ctx.font = `27px ${sans}`;
    const t1 = 'Observed X\u2212ray Luminosity (erg s', t3 = ')';
    const w1 = ctx.measureText(t1).width, w3 = ctx.measureText(t3).width;
    ctx.font = `17px ${sans}`;
    const w2 = ctx.measureText('\u22121').width;
    let sx = -(w1+w2+w3)/2;
    ctx.textAlign = 'left';
    ctx.font = `27px ${sans}`; ctx.fillText(t1, sx, 0); sx += w1;
    ctx.font = `17px ${sans}`; ctx.fillText('\u22121', sx, -11); sx += w2;
    ctx.font = `27px ${sans}`; ctx.fillText(t3, sx, 0);
    ctx.restore();
    ctx.font = `27px ${sans}`;
    ctx.fillText('Predicted X\u2212ray Luminosity (erg s\u207B\u00B9)', 251, 581);
    ctx.restore();
  }
};

new Chart(document.getElementById('insetCanvas'), {
  type:'scatter',
  data:{ datasets:[
    {label:'equal', type:'line', data: toXY(equalityLine), borderColor:'#333', borderWidth:1.3, pointRadius:0, fill:false},
    {label:'tenth', type:'line', data: toXY(tenthLine), borderColor:'#555', borderWidth:1.3, borderDash:[7,6], pointRadius:0, fill:false},
    {label:'named', data: toXY(insetFilledStars), pointStyle:'circle', pointRadius:4.5, backgroundColor:'#000', borderColor:'#000', borderWidth:0},
    {label:'open', data: toXY(insetOpenStars), pointStyle:'rectRot', pointRadius:4, backgroundColor:'#fff', borderColor:'#222', borderWidth:1.3}
  ]},
  options:{
    responsive:false, animation:false, devicePixelRatio:1, events:[],
    layout:{padding:{left:135, top:44, right:18, bottom:80}},
    plugins:{legend:{display:false}, tooltip:{enabled:false}},
    scales:{
      x:{type:'logarithmic', min:6.35e29, max:2.51e31, display:false},
      y:{type:'logarithmic', min:1e29, max:1.52e31, display:false}
    }
  },
  plugins:[insetDecor]
});
</script>
</body></html>
